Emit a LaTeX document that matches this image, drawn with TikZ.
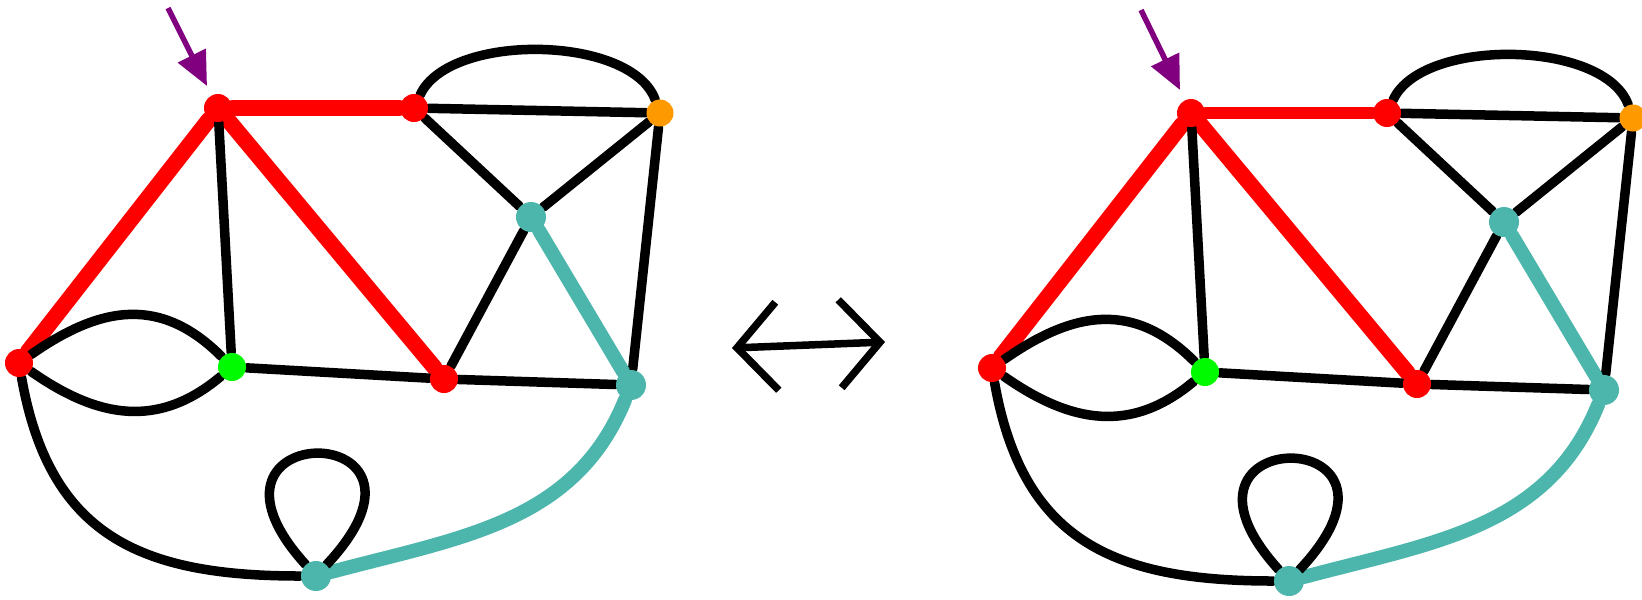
\documentclass[tikz,border=0pt]{standalone}
\usepackage{tikz}
\usetikzlibrary{arrows.meta,backgrounds}
\definecolor{sommetrouge}{RGB}{255,0,0}
\definecolor{sommetvert}{RGB}{0,250,0}
\definecolor{sommetorange}{RGB}{255,153,0}
\definecolor{turquoise}{RGB}{77,182,172}
\definecolor{pointeur}{RGB}{128,0,128}
\begin{document}
\begin{tikzpicture}[x=0.01cm,y=-0.01cm,
  sommetR/.style={circle,fill=sommetrouge,inner sep=0pt,minimum size=0.28cm},
  sommetV/.style={circle,fill=sommetvert,inner sep=0pt,minimum size=0.28cm},
  sommetO/.style={circle,fill=sommetorange,inner sep=0pt,minimum size=0.27cm},
  sommetT/.style={circle,fill=turquoise,inner sep=0pt,minimum size=0.3cm},
  arete/.style={line width=0.095cm,line cap=round,black},
  chemin/.style={line width=0.16cm,line cap=round,sommetrouge},
  cheminfin/.style={line width=0.115cm,line cap=round,sommetrouge},
  turq/.style={line width=0.14cm,line cap=round,turquoise},
  fleche/.style={-{Triangle[length=0.34cm,width=0.3cm]},line width=0.055cm,pointeur},
  equiv/.style={{Straight Barb[length=0.4cm,width=0.88cm]}-{Straight Barb[length=0.4cm,width=0.88cm]},line width=0.075cm}
]
\useasboundingbox (0,0) rectangle (1642,599);
%% Graphe de gauche
\node[sommetR] (lA)  at (218,108) {};
\node[sommetR] (lB)  at (414,108) {};
\node[sommetO] (lO)  at (660,113) {};
\node[sommetT] (lT1) at (531,217) {};
\node[sommetR] (lL)  at (19,363)  {};
\node[sommetV] (lG)  at (232,367) {};
\node[sommetR] (lR)  at (444,379) {};
\node[sommetT] (lT2) at (631,385) {};
\node[sommetT] (lT3) at (316,576) {};
\coordinate (lp1) at (168,8);
\coordinate (lp2) at (207,86);
\begin{scope}[on background layer]
\draw[chemin] (lA) -- (lB);
\draw[chemin] (lA) -- (lL);
\draw[chemin] (lA) -- (lR);
\draw[arete] (lA) -- (lG);
\draw[arete] (lL) to[out=35,in=135,looseness=1.15] (lG);
\draw[arete] (lL) to[out=-35,in=-140,looseness=1.1] (lG);
\draw[arete] (lG) -- (lR);
\draw[arete] (lR) -- (lT2);
\draw[arete] (lR) -- (lT1);
\draw[arete] (lB) -- (lT1);
\draw[arete] (lT1) -- (lO);
\draw[arete] (lB) -- (lO);
\draw[arete] (lB) to[out=65,in=110,looseness=0.75] (lO);
\draw[arete] (lO) -- (lT2);
\draw[turq] (lT1) -- (lT2);
\draw[turq] (lT2) to[out=-112,in=15] (lT3);
\draw[arete] (lL) to[out=-80,in=180,looseness=1.2] (lT3);
\draw[arete] (lT3) .. controls +(-145,-160) and +(150,-160) .. (lT3);
\end{scope}
\draw[fleche] (lp1) -- (lp2);
%% Double flèche
\coordinate (eq1) at (732,348);
\coordinate (eq2) at (885,342);
\draw[equiv] (eq1) -- (eq2);
%% Graphe de droite
\node[sommetR] (rA)  at (1191,113) {};
\node[sommetR] (rB)  at (1387,113) {};
\node[sommetO] (rO)  at (1633,118) {};
\node[sommetT] (rT1) at (1504,222) {};
\node[sommetR] (rL)  at (992,368)  {};
\node[sommetV] (rG)  at (1205,372) {};
\node[sommetR] (rR)  at (1417,384) {};
\node[sommetT] (rT2) at (1604,390) {};
\node[sommetT] (rT3) at (1289,581) {};
\coordinate (rp1) at (1141,10);
\coordinate (rp2) at (1180,90);
\begin{scope}[on background layer]
\draw[cheminfin] (rA) -- (rB);
\draw[chemin] (rA) -- (rL);
\draw[chemin] (rA) -- (rR);
\draw[arete] (rA) -- (rG);
\draw[arete] (rL) to[out=35,in=135,looseness=1.15] (rG);
\draw[arete] (rL) to[out=-35,in=-140,looseness=1.1] (rG);
\draw[arete] (rG) -- (rR);
\draw[arete] (rR) -- (rT2);
\draw[arete] (rR) -- (rT1);
\draw[arete] (rB) -- (rT1);
\draw[arete] (rT1) -- (rO);
\draw[arete] (rB) -- (rO);
\draw[arete] (rB) to[out=65,in=110,looseness=0.75] (rO);
\draw[arete] (rO) -- (rT2);
\draw[turq] (rT1) -- (rT2);
\draw[turq] (rT2) to[out=-112,in=15] (rT3);
\draw[arete] (rL) to[out=-80,in=180,looseness=1.2] (rT3);
\draw[arete] (rT3) .. controls +(-145,-160) and +(150,-160) .. (rT3);
\end{scope}
\draw[fleche] (rp1) -- (rp2);
\end{tikzpicture}
\end{document}
